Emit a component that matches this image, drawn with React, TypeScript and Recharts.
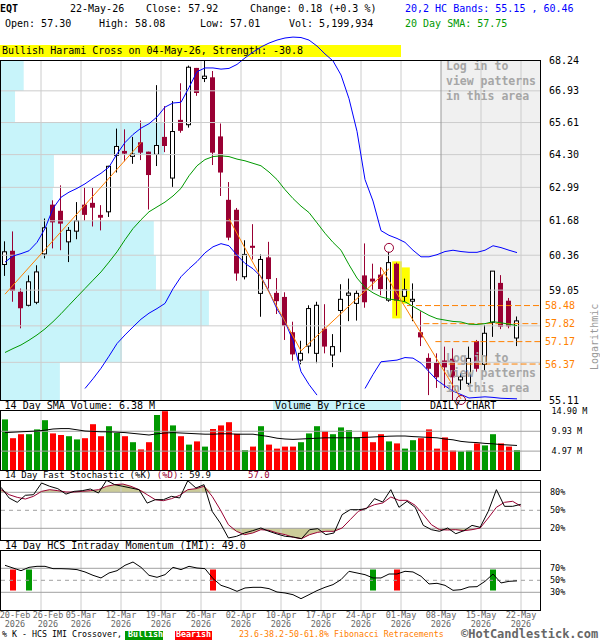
import React from "react";
import {
  ComposedChart,
  Bar,
  Line,
  Area,
  XAxis,
  YAxis,
  ReferenceLine,
  ReferenceArea,
  ReferenceDot,
  Cell,
} from "recharts";

// daily candles, 20-Feb-26 .. 22-May-26 (65 sessions)
const opens = [
  60.01, 60.51, 58.97, 58.49, 58.6, 60.41, 62.29, 62.05, 60.87, 61.28,
  62.29, 62.36, 61.89, 62.03, 64.27, 64.43, 64.23, 64.78, 64.4, 64.31,
  65.0, 63.36, 65.7, 65.52, 67.88, 67.45, 67.48, 65.02, 62.48, 62.09,
  59.55, 60.7, 58.93, 60.26, 58.93, 58.78, 57.49, 56.51, 57.01, 56.75,
  57.62, 56.69, 58.3, 58.86, 58.56, 59.58, 59.46, 59.61, 58.68, 60.02,
  58.82, 58.64, 57.49, 56.57, 56.39, 56.48, 56.54, 55.81, 55.69, 57.17,
  56.36, 57.87, 59.3, 58.64, 57.3,
];
const highs = [
  60.89, 61.27, 59.11, 59.6, 59.98, 61.77, 62.48, 63.07, 61.44, 62.41,
  63.0, 62.97, 62.29, 63.85, 65.36, 65.33, 65.02, 65.69, 64.42, 67.17,
  66.29, 66.5, 67.25, 68.0, 67.9, 68.2, 67.77, 65.57, 63.2, 62.18,
  60.93, 61.55, 60.39, 60.87, 59.5, 58.97, 57.89, 57.2, 58.49, 58.62,
  58.53, 57.44, 59.27, 59.48, 59.05, 60.81, 60.04, 59.91, 60.49, 60.08,
  59.48, 59.3, 58.27, 56.75, 56.75, 56.99, 56.93, 56.04, 56.99, 57.23,
  57.77, 59.76, 59.61, 58.76, 58.08,
];
const lows = [
  59.58, 58.62, 57.65, 58.45, 58.53, 60.24, 60.62, 60.55, 60.1, 60.97,
  61.68, 61.46, 61.31, 61.83, 63.58, 64.03, 63.93, 64.08, 62.12, 63.84,
  64.4, 63.0, 65.19, 65.4, 66.72, 67.3, 63.88, 62.65, 60.93, 59.4,
  59.45, 60.2, 58.07, 59.11, 58.17, 57.23, 56.49, 56.36, 56.75, 56.4,
  56.75, 56.26, 56.79, 57.91, 57.93, 58.4, 59.05, 58.86, 58.62, 58.11,
  58.62, 57.91, 57.01, 55.28, 55.53, 55.53, 55.11, 55.46, 55.58, 56.1,
  56.13, 57.34, 57.62, 57.65, 57.01,
];
const closes = [
  60.49, 59.04, 58.4, 59.36, 59.73, 61.41, 61.64, 61.59, 61.31, 61.68,
  61.93, 62.21, 61.82, 63.83, 64.63, 64.36, 64.32, 64.4, 63.5, 64.67,
  64.67, 65.24, 65.29, 67.93, 66.86, 67.55, 64.4, 63.6, 61.05, 59.69,
  60.39, 60.66, 60.2, 59.48, 58.66, 57.75, 56.73, 56.75, 58.37, 58.49,
  57.01, 56.99, 58.71, 58.94, 58.93, 58.62, 59.39, 59.11, 60.08, 58.68,
  59.07, 58.71, 57.34, 56.22, 55.92, 56.27, 55.92, 55.92, 56.57, 56.22,
  57.47, 59.76, 57.73, 57.74, 57.92,
];

// 20,2 bands and 20 day SMA (null where the band leaves the panel)
const upperBand = [
  60.1, 60.33, 60.42, 60.53, 60.85, 61.38, 62.16, 62.6, 62.8, 62.95,
  63.13, 63.35, 63.55, 63.8, 64.33, 64.79, 65.12, 65.38, 65.56, 65.84,
  66.25, 66.42, 66.45, 67.07, 67.74, 67.9, 67.9, 67.85, 67.88, 68.05,
  68.33, 68.58, 68.8, 68.97, 69.1, 69.19, 69.23, 69.21, 69.1, 68.84,
  68.5, 68.2, 67.6, 66.6, 65.25, 63.3, 62.45, 61.3, 61.12, 61.0,
  60.85, 60.55, 60.3, 60.3, 60.38, 60.5, 60.55, 60.5, 60.47, 60.47,
  60.55, 60.72, 60.65, 60.55, 60.46,
];
const lowerBand = [
  null, null, null, null, null, null, null, null, null, null,
  55.51, 55.85, 56.22, 56.65, 57.1, 57.41, 57.7, 57.98, 58.2, 58.37,
  58.56, 59.1, 59.55, 59.85, 60.12, 60.45, 60.68, 60.8, 60.72, 60.36,
  60.05, 59.85, 59.55, 59.0, 58.35, 57.89, 57.2, 56.1, 55.65, 55.28,
  null, null, null, null, null, 55.51, 56.0, 56.45, 56.48, 56.51,
  56.6, 56.58, 56.4, 56.1, 55.8, 55.6, 55.42, 55.3, 55.18, 55.2,
  55.22, 55.2, 55.17, 55.16, 55.15,
];
const sma20 = [
  56.78, 56.92, 57.05, 57.22, 57.41, 57.63, 57.89, 58.18, 58.49, 58.8,
  59.11, 59.42, 59.73, 60.1, 60.49, 60.95, 61.38, 61.72, 62.03, 62.22,
  62.41, 62.65, 62.95, 63.45, 63.85, 64.1, 64.22, 64.25, 64.22, 64.12,
  64.05, 63.95, 63.85, 63.6, 63.3, 62.9, 62.55, 62.25, 62.0, 61.6,
  61.2, 60.85, 60.55, 60.0, 59.5, 59.15, 58.95, 58.8, 58.72, 58.68,
  58.62, 58.45, 58.28, 58.12, 58.0, 57.95, 57.9, 57.88, 57.8, 57.79,
  57.82, 57.89, 57.85, 57.8, 57.75,
];

// volume in millions and its 14 day average
const volumes = [
  12.9, 8.2, 9.2, 9.2, 10.4, 12.7, 9.4, 9.0, 8.7, 7.9,
  8.2, 11.7, 8.7, 11.2, 9.5, 8.7, 7.2, 5.4, 7.2, 14.0,
  14.95, 11.4, 8.7, 6.6, 7.4, 6.1, 10.5, 11.4, 12.2, 9.3,
  5.2, 6.1, 11.2, 6.6, 5.6, 6.1, 6.1, 7.2, 9.4, 11.2,
  9.9, 9.2, 10.9, 10.2, 8.4, 9.9, 7.2, 9.2, 7.4, 6.9,
  5.6, 7.7, 8.2, 10.4, 5.6, 8.4, 5.1, 4.9, 5.1, 6.9,
  6.4, 9.2, 6.9, 6.1, 5.2,
];
const volumeSma = [
  9.6, 9.7, 9.8, 9.9, 10.0, 10.2, 10.5, 10.6, 10.6, 10.3,
  10.0, 9.9, 9.8, 9.8, 9.7, 9.6, 9.4, 9.2, 9.0, 9.3,
  9.5, 9.6, 9.5, 9.4, 9.3, 9.2, 9.2, 9.3, 9.3, 9.2,
  9.2, 9.2, 8.9, 8.6, 8.2, 8.0, 7.9, 8.0, 8.1, 8.2,
  8.3, 8.3, 8.3, 8.3, 8.3, 8.4, 8.5, 8.6, 8.7, 8.75,
  8.75, 8.6, 8.5, 8.4, 8.3, 8.0, 7.8, 7.4, 7.2, 7.1,
  6.9, 6.8, 6.6, 6.5, 6.38,
];

// 14 day fast stochastic
const stochK = [
  88.3, 70.5, 63.3, 75, 76, 95.5, 90, 86, 77, 81.6,
  82.7, 85.5, 78.8, 100, 92.7, 90, 87.2, 84.4, 62, 67.7,
  67.7, 73.3, 70.5, 99.4, 87.2, 92.7, 48.3, 28.8, 3.9, 6.6,
  12.2, 16.1, 20.5, 15, 10.5, 6.6, 5.5, 2.7, 17.7, 19.4,
  9.4, 12.2, 42.7, 51, 51, 52.7, 69.4, 63.8, 84.4, 55,
  65, 55, 24.9, 17.7, 15, 20.5, 11, 16, 24.9, 21.6,
  48.3, 84.4, 56.6, 56.6, 59.9,
];
const stochD = [
  84.4, 76, 71.6, 68.8, 73.3, 81.6, 84.4, 82.7, 80.5, 80.5,
  81.6, 82.7, 84.4, 90, 92.7, 93.8, 90, 84.4, 76, 67.7,
  66, 69.4, 75, 84.4, 86, 90, 73.3, 51, 26, 15,
  9.4, 12.2, 17.7, 16.6, 12.2, 9.4, 5, 2.7, 9.4, 13.3,
  15, 15, 20.5, 34.4, 48.3, 53.8, 59.4, 62.2, 72.2, 66.6,
  66.6, 58.3, 42.7, 26, 17.7, 17.2, 17.7, 16, 17.7, 20.5,
  37.2, 55, 63.3, 65, 57.0,
];

// 14 day HCS intraday momentum
const imi = [
  75, 70.5, 66, 71.6, 73.3, 73.3, 69.4, 69.4, 68.9, 67.8,
  63.9, 58.3, 53.9, 62.2, 66, 75, 80.5, 71.6, 58.3, 55,
  59.4, 71.6, 67.8, 73.3, 70.5, 69.4, 52.8, 41.6, 37.2, 31.6,
  37.2, 38.3, 38.3, 36.1, 30.5, 28.9, 26, 19.4, 26, 32.8,
  38.3, 42.8, 51.1, 65, 62.2, 59.4, 53.9, 53.9, 60.5, 60.5,
  65, 63.9, 56.7, 43.9, 45, 41.6, 33.3, 34.4, 38.9, 39.4,
  48.3, 60.5, 45.6, 48.3, 49.0,
];
const crossovers = [
  { i: 1, bull: false },
  { i: 3, bull: true },
  { i: 26, bull: false },
  { i: 46, bull: true },
  { i: 49, bull: false },
  { i: 61, bull: true },
];

// axis labels
const tickIdx = [0, 4, 9, 14, 19, 24, 29, 34, 39, 44, 49, 54, 59, 64];
const tickDates = [
  "20-Feb", "26-Feb", "05-Mar", "12-Mar", "19-Mar", "26-Mar", "02-Apr",
  "10-Apr", "17-Apr", "24-Apr", "01-May", "08-May", "15-May", "22-May",
];
const priceTicks = [55.11, 56.37, 57.17, 57.82, 58.48, 59.05, 60.36, 61.68, 62.99, 64.3, 65.61, 66.93, 68.24];
const gridPrices = [55.11, 56.43, 57.74, 59.05, 60.36, 61.68, 62.99, 64.3, 65.61, 66.93, 68.24];
// volume by price per grid band (bottom to top), millions
const vbpVolume = [10.9, 22.4, 38.5, 28.7, 28.3, 9.6, 9.8, 30.2, 2.6, 4.2];

// fibonacci retracement levels and the session where each starts
const fibLevels = [58.48, 57.82, 57.17, 56.37];
const fibStart = [50.25, 52.3, 53.8, 55.45];

// trend lines between pivots [session, price]
const trendLines = [
  [[0, 58.9], [17, 64.79]],
  [[28, 61.76], [37, 56.84]],
  [[37, 56.84], [48, 59.85]],
  [[47, 59.9], [57, 55.15]],
];
// Bullish Harami Cross highlight (session, low, high)
const patternCandles = [
  { i: 49, lo: 58.01, hi: 60.13 },
  { i: 50, lo: 58.55, hi: 59.9 },
];
const pivotMarks = [
  { i: 48, p: 60.64 },
  { i: 57, p: 55.11 },
];

const MONO = '"DejaVu Sans Mono", "Liberation Mono", monospace';
const MAROON = "#990033";
const ORANGE = "#ff8000";
const GREEN = "#009900";
const RED = "#ff0000";
const BLUE = "#0000ff";
const GRID = "#cccccc";
const PRICE_LO = gridPrices[0];
const PRICE_HI = gridPrices[gridPrices.length - 1];
// plot area starts 25px above the frame so the upper band can leave it
const pxPerLn = Math.log(PRICE_HI / PRICE_LO) / 340;
const priceTop = PRICE_HI * Math.exp(25 * pxPerLn);
const X_MAX = 67;
const loginStart = tickIdx[11] + 0.5;
const tickPos = tickIdx.map((t) => t + 0.5);
const IMI_TOP = 10.3;
const IMI_H = 60;

const N = opens.length;
const rows = Array.from({ length: N + 2 }, (_, i) => {
  if (i >= N) return { i } as any;
  const r: any = {
    i,
    o: opens[i],
    h: highs[i],
    l: lows[i],
    c: closes[i],
    range: [lows[i], highs[i]],
    ub: upperBand[i],
    lb: lowerBand[i],
    sma: sma20[i],
    vol: volumes[i],
    volSma: volumeSma[i],
    k: stochK[i],
    d: stochD[i],
    kdHi: [80, Math.max(80, stochD[i])],
    kdLo: [Math.min(20, stochD[i]), 20],
    imi: imi[i],
  };
  trendLines.forEach((seg, s) =>
    seg.forEach(([x, y]) => {
      if (x === i) r["t" + s] = y;
    })
  );
  const cr = crossovers.find((c) => c.i === i);
  if (cr) {
    r.cross = [33, 68];
    r.bull = cr.bull;
  }
  return r;
});

function Candle(props: any) {
  const { x, y, width, height, payload } = props;
  if (!payload || payload.o == null) return <g />;
  const { o, h, l, c } = payload;
  const lnH = Math.log(h);
  const span = lnH - Math.log(l) || 1;
  // log axis: position is linear in ln(price) between high and low
  const yOf = (v: number) => y + ((lnH - Math.log(v)) / span) * height;
  const cx = x + width / 2 - 0.5;
  const up = c >= o;
  const yTop = yOf(Math.max(o, c));
  const yBot = yOf(Math.min(o, c));
  return (
    <g>
      <line x1={cx} x2={cx} y1={y} y2={y + height} stroke={up ? "#000" : MAROON} strokeWidth={1} />
      {up ? (
        <rect x={cx - 2} y={yTop} width={4} height={Math.max(yBot - yTop, 1)} fill="#fff" stroke="#000" strokeWidth={1} />
      ) : (
        <rect x={cx - 2.5} y={yTop - 0.5} width={5} height={Math.max(yBot - yTop + 1, 2)} fill={MAROON} />
      )}
    </g>
  );
}

const PriceTick = (props: any) => {
  const { x, y, payload } = props;
  const v = payload.value as number;
  const fib = fibLevels.includes(v);
  return (
    <text x={fib ? x - 4 : x} y={y} dy={3.5} fontSize={10} fontFamily={MONO} fill={fib ? ORANGE : "#000"} textAnchor="start">
      {v.toFixed(2)}
    </text>
  );
};

const SmallTick = (suffix: string, digits: number, dx: number) => (props: any) => {
  const { x, y, payload } = props;
  return (
    <text x={x + dx} y={y} dy={3} fontSize={8.5} fontFamily={MONO} fill="#000" textAnchor="start">
      {payload.value.toFixed(digits) + suffix}
    </text>
  );
};

// date labels sit on the week boundaries; the first ones are pushed right so they do not collide
const DateTick = (props: any) => {
  const { x, index } = props;
  const cx = Math.max(x, 15 + 33 * index);
  const base = IMI_TOP + IMI_H;
  return (
    <g fontFamily={MONO} fontSize={8.5} fill="#666" textAnchor="middle">
      <text x={cx} y={base + 8}>{tickDates[index]}</text>
      <text x={cx} y={base + 16.3}>2026</text>
    </g>
  );
};

function Txt({ x, y, size = 10, color = "#000", bold = false, children }: any) {
  return (
    <div
      style={{
        position: "absolute",
        left: x,
        top: y - size * 0.6,
        fontSize: size,
        lineHeight: `${size * 1.2}px`,
        color,
        fontWeight: bold ? "bold" : "normal",
        whiteSpace: "pre",
        fontFamily: MONO,
      }}
    >
      {children}
    </div>
  );
}

function Frame({ top, height }: { top: number; height: number }) {
  return (
    <div
      style={{
        position: "absolute",
        left: 0,
        top,
        width: 541,
        height,
        border: "1px solid #000",
        boxSizing: "border-box",
        pointerEvents: "none",
      }}
    />
  );
}

const vGrid = (yAxisId: string, lo: number, hi: number) =>
  tickPos.slice(1).map((t) => (
    <ReferenceLine
      key={"vg" + t}
      xAxisId="num"
      yAxisId={yAxisId}
      segment={[{ x: t, y: lo }, { x: t, y: hi }]}
      stroke={t === loginStart && yAxisId === "p" ? "#999999" : GRID}
    />
  ));

const hiddenX = [
  <XAxis key="cat" xAxisId="cat" dataKey="i" type="category" hide padding={{ left: 0, right: 4 }} />,
];

export default function App() {
  return (
    <div style={{ position: "absolute", left: 0, top: 0, width: 600, height: 640, background: "#fff", overflow: "hidden", fontFamily: MONO }}>
      {/* header */}
      <Txt x={0} y={9} bold>EQT</Txt>
      <Txt x={70} y={9}>22-May-26</Txt>
      <Txt x={146} y={9}>Close: 57.92</Txt>
      <Txt x={250} y={9}>Change: 0.18 (+0.3 %)</Txt>
      <Txt x={405} y={9} color="#0000ff">20,2 HC Bands: 55.15 , 60.46</Txt>
      <Txt x={5} y={24}>Open: 57.30</Txt>
      <Txt x={99} y={24}>High: 58.08</Txt>
      <Txt x={200} y={24}>Low: 57.01</Txt>
      <Txt x={289} y={24}>Vol: 5,199,934</Txt>
      <Txt x={405} y={24} color={GREEN}>20 Day SMA: 57.75</Txt>
      <div style={{ position: "absolute", left: 0, top: 45, width: 401, height: 12, background: "#ffff00" }} />
      <Txt x={2} y={51}>Bullish Harami Cross on 04-May-26, Strength: -30.8</Txt>

      {/* price panel */}
      <div style={{ position: "absolute", left: 0, top: 0 }}>
        <ComposedChart width={600} height={410} data={rows} margin={{ top: 35, right: 0, bottom: 10, left: 1 }}>
          {hiddenX}
          <XAxis xAxisId="num" dataKey="i" type="number" domain={[-0.5, X_MAX]} hide allowDataOverflow />
          <XAxis xAxisId="vbp" dataKey="i" type="number" domain={[0, 100]} hide allowDataOverflow />
          <YAxis
            yAxisId="p"
            orientation="right"
            scale="log"
            type="number"
            domain={[PRICE_LO, priceTop]}
            allowDataOverflow
            ticks={priceTicks}
            interval={0}
            width={59}
            axisLine={false}
            tickLine={false}
            tick={<PriceTick />}
          />
          {vbpVolume.map((v, b) => (
            <ReferenceArea
              key={"vbp" + b}
              xAxisId="vbp"
              yAxisId="p"
              x1={0}
              x2={v}
              y1={gridPrices[b]}
              y2={gridPrices[b + 1]}
              fill="#c8f4fa"
              fillOpacity={1}
              stroke="none"
            />
          ))}
          <ReferenceArea xAxisId="num" yAxisId="p" x1={loginStart} x2={X_MAX} y1={PRICE_LO} y2={PRICE_HI} fill="#f0f0f0" fillOpacity={1} stroke="none" />
          {gridPrices.slice(1, -1).map((p) => (
            <ReferenceLine key={"hg" + p} xAxisId="num" yAxisId="p" y={p} stroke={GRID} />
          ))}
          {vGrid("p", PRICE_LO, PRICE_HI)}
          {patternCandles.map((pc) => (
            <ReferenceArea
              key={"pat" + pc.i}
              xAxisId="num"
              yAxisId="p"
              x1={pc.i - 0.6}
              x2={pc.i + 0.6}
              y1={pc.lo}
              y2={pc.hi}
              fill="#ffff00"
              fillOpacity={1}
              stroke="none"
            />
          ))}
          {fibLevels.map((p, k) => (
            <ReferenceLine
              key={"fib" + k}
              xAxisId="num"
              yAxisId="p"
              segment={[{ x: fibStart[k], y: p }, { x: X_MAX, y: p }]}
              stroke={ORANGE}
              strokeDasharray="6 3"
            />
          ))}
          <Line xAxisId="cat" yAxisId="p" dataKey="ub" stroke={BLUE} strokeWidth={1} dot={false} isAnimationActive={false} />
          <Line xAxisId="cat" yAxisId="p" dataKey="lb" stroke={BLUE} strokeWidth={1} dot={false} isAnimationActive={false} />
          <Line xAxisId="cat" yAxisId="p" dataKey="sma" stroke={GREEN} strokeWidth={1} dot={false} isAnimationActive={false} />
          {trendLines.map((_, s) => (
            <Line
              key={"tl" + s}
              xAxisId="cat"
              yAxisId="p"
              dataKey={"t" + s}
              stroke={ORANGE}
              strokeWidth={1}
              dot={false}
              connectNulls
              isAnimationActive={false}
            />
          ))}
          <Bar xAxisId="cat" yAxisId="p" dataKey="range" barSize={6} shape={(p: any) => <Candle {...p} />} isAnimationActive={false} />
          {pivotMarks.map((m) => (
            <ReferenceDot key={"pv" + m.i} xAxisId="num" yAxisId="p" x={m.i} y={m.p} r={4.5} fill="none" stroke={MAROON} strokeWidth={1} />
          ))}
        </ComposedChart>
      </div>
      {["Log in to", "view patterns", "in this area"].map((s, k) => (
        <Txt key={"la" + k} x={446} y={67 + 15 * k} size={11.5} bold color="#a6a6a6">{s}</Txt>
      ))}
      {["Log in to", "view patterns", "in this area"].map((s, k) => (
        <Txt key={"lb" + k} x={446} y={359 + 15 * k} size={11.5} bold color="#a6a6a6">{s}</Txt>
      ))}
      <div
        style={{
          position: "absolute",
          left: 562,
          top: 331,
          width: 66,
          height: 12,
          transform: "rotate(-90deg)",
          fontSize: 10,
          lineHeight: "12px",
          color: "#999",
          fontFamily: MONO,
          whiteSpace: "pre",
          textAlign: "center",
        }}
      >
        Logarithmic
      </div>
      <Frame top={60} height={341} />

      {/* label row */}
      <Txt x={4.6} y={405.5}>14 Day SMA Volume: 6.38 M</Txt>
      <div style={{ position: "absolute", left: 273, top: 401, width: 128, height: 9, background: "#c8f4fa" }} />
      <Txt x={275} y={405.5}>Volume By Price</Txt>
      <Txt x={430} y={405.5}>DAILY CHART</Txt>

      {/* volume panel */}
      <div style={{ position: "absolute", left: 0, top: 401 }}>
        <ComposedChart width={600} height={80} data={rows} margin={{ top: 10, right: 0, bottom: 10, left: 1 }}>
          {hiddenX}
          <XAxis xAxisId="num" dataKey="i" type="number" domain={[-0.5, X_MAX]} hide allowDataOverflow />
          <YAxis
            yAxisId="v"
            orientation="right"
            domain={[0, 15]}
            allowDataOverflow
            ticks={[4.97, 9.93, 14.9]}
            interval={0}
            width={59}
            axisLine={false}
            tickLine={false}
            tick={SmallTick(" M", 2, 2.5)}
          />
          {vGrid("v", 0, 15)}
          {[4.97, 9.93].map((v) => (
            <ReferenceLine key={"vh" + v} xAxisId="num" yAxisId="v" y={v} stroke="#a0a0a0" />
          ))}
          <Bar xAxisId="cat" yAxisId="v" dataKey="vol" barSize={6} isAnimationActive={false}>
            {rows.map((r, i) => (
              <Cell key={i} fill={r.c >= r.o ? GREEN : RED} />
            ))}
          </Bar>
          <Line xAxisId="cat" yAxisId="v" dataKey="volSma" stroke="#000" strokeWidth={1} dot={false} isAnimationActive={false} />
        </ComposedChart>
      </div>
      <Frame top={410} height={61} />

      {/* stochastic panel */}
      <div style={{ position: "absolute", left: 5, top: 470, fontFamily: MONO, fontSize: 9, lineHeight: "11px", whiteSpace: "pre" }}>
        <span>14 Day Fast Stochastic (%K) </span>
        <span style={{ color: MAROON }}>(%D)</span>
        <span>: 59.9</span>
      </div>
      <Txt x={248} y={475.5} size={9} color={MAROON}>57.0</Txt>
      <div style={{ position: "absolute", left: 0, top: 470 }}>
        <ComposedChart width={600} height={80} data={rows} margin={{ top: 10.3, right: 0, bottom: 9.7, left: 1 }}>
          {hiddenX}
          <XAxis xAxisId="num" dataKey="i" type="number" domain={[-0.5, X_MAX]} hide allowDataOverflow />
          <YAxis
            yAxisId="s"
            orientation="right"
            domain={[0, 100]}
            allowDataOverflow
            ticks={[20, 50, 80]}
            interval={0}
            width={59}
            axisLine={false}
            tickLine={false}
            tick={SmallTick("%", 0, 1)}
          />
          {vGrid("s", 0, 100)}
          <ReferenceLine xAxisId="num" yAxisId="s" y={80} stroke="#a0a0a0" />
          <ReferenceLine xAxisId="num" yAxisId="s" y={50} stroke="#a0a0a0" strokeDasharray="4 4" />
          <ReferenceLine xAxisId="num" yAxisId="s" y={20} stroke="#a0a0a0" />
          <Area xAxisId="cat" yAxisId="s" dataKey="kdHi" type="linear" fill="#cccc99" fillOpacity={1} stroke="none" isAnimationActive={false} />
          <Area xAxisId="cat" yAxisId="s" dataKey="kdLo" type="linear" fill="#cccc99" fillOpacity={1} stroke="none" isAnimationActive={false} />
          <Line xAxisId="cat" yAxisId="s" dataKey="d" stroke={MAROON} strokeWidth={1} dot={false} isAnimationActive={false} />
          <Line xAxisId="cat" yAxisId="s" dataKey="k" stroke="#000" strokeWidth={1} dot={false} isAnimationActive={false} />
        </ComposedChart>
      </div>
      <Frame top={480} height={61} />

      {/* momentum panel */}
      <Txt x={5} y={546}>14 Day HCS Intraday Momentum (IMI): 49.0</Txt>
      <div style={{ position: "absolute", left: 0, top: 540 }}>
        <ComposedChart width={600} height={90} data={rows} margin={{ top: IMI_TOP, right: 0, bottom: 0, left: 1 }}>
          {hiddenX}
          <XAxis
            xAxisId="num"
            dataKey="i"
            type="number"
            domain={[-0.5, X_MAX]}
            allowDataOverflow
            ticks={tickPos}
            interval={0}
            height={90 - IMI_TOP - IMI_H}
            axisLine={false}
            tickLine={false}
            tick={<DateTick />}
          />
          <YAxis
            yAxisId="m"
            orientation="right"
            domain={[0, 100]}
            allowDataOverflow
            ticks={[30, 50, 70]}
            interval={0}
            width={59}
            axisLine={false}
            tickLine={false}
            tick={SmallTick("%", 0, 1)}
          />
          {vGrid("m", 0, 100)}
          <ReferenceLine xAxisId="num" yAxisId="m" y={70} stroke="#a0a0a0" />
          <ReferenceLine xAxisId="num" yAxisId="m" y={50} stroke="#a0a0a0" strokeDasharray="4 4" />
          <ReferenceLine xAxisId="num" yAxisId="m" y={30} stroke="#a0a0a0" />
          <Bar xAxisId="cat" yAxisId="m" dataKey="cross" barSize={6} isAnimationActive={false}>
            {rows.map((r, i) => (
              <Cell key={i} fill={r.bull ? GREEN : RED} />
            ))}
          </Bar>
          <Line xAxisId="cat" yAxisId="m" dataKey="imi" stroke="#000" strokeWidth={1} dot={false} isAnimationActive={false} />
        </ComposedChart>
      </div>
      <Frame top={550} height={61} />

      {/* footer */}
      <Txt x={2} y={635} size={8.3}>% K - HCS IMI Crossover,</Txt>
      <div style={{ position: "absolute", left: 125, top: 631, width: 38, height: 9, background: GREEN }} />
      <Txt x={128} y={635} size={8.3} color="#fff" bold>Bullish</Txt>
      <div style={{ position: "absolute", left: 175, top: 631, width: 37, height: 9, background: RED }} />
      <Txt x={176} y={635} size={8.3} color="#fff" bold>Bearish</Txt>
      <Txt x={239} y={635} size={8.3} color={ORANGE}>23.6-38.2-50-61.8% Fibonacci Retracements</Txt>
      <Txt x={461} y={634} size={12} bold color="#666">©HotCandlestick.com</Txt>
    </div>
  );
}
